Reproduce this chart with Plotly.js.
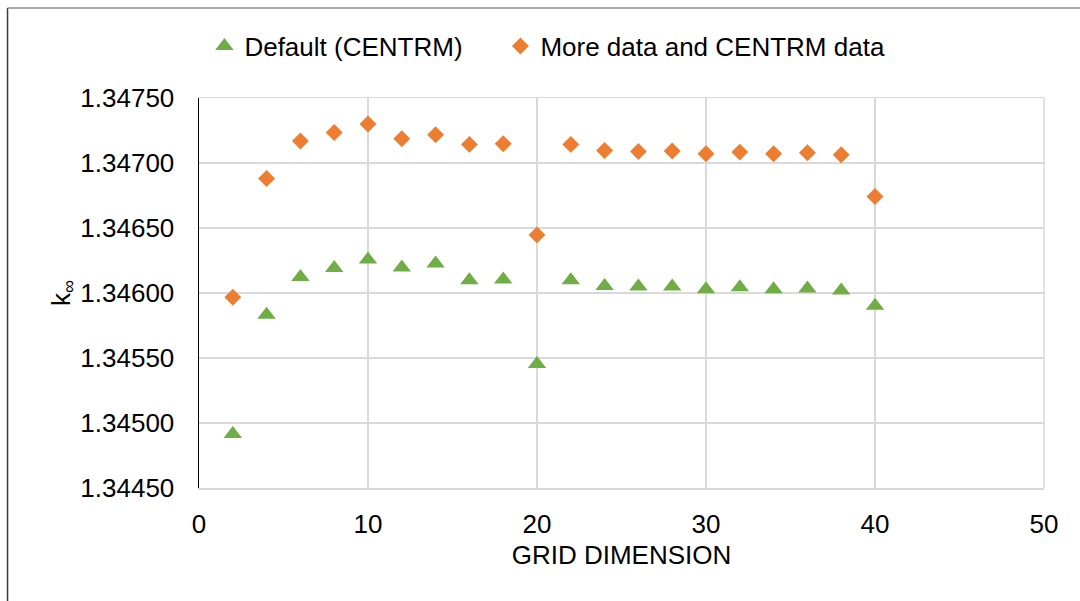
<!DOCTYPE html>
<html>
<head>
<meta charset="utf-8">
<script src="https://cdn.plot.ly/plotly-3.0.1.min.js"></script>
<style>
  html, body { margin: 0; padding: 0; background: #fff; }
  #chart { width: 1080px; height: 601px; }
</style>
</head>
<body>
<div id="chart"></div>
<script>
// Grid dimension (x) shared by both series
const gridDimension = [2, 4, 6, 8, 10, 12, 14, 16, 18, 20, 22, 24, 26, 28, 30, 32, 34, 36, 38, 40];

// k-infinity, default CENTRM treatment
const kDefault = [1.344916, 1.345833, 1.346123, 1.346193, 1.346257, 1.346196, 1.346227, 1.346099, 1.346104, 1.345453,
                  1.346099, 1.346054, 1.346050, 1.346050, 1.346029, 1.346045, 1.346029, 1.346035, 1.346019, 1.345902];

// k-infinity, more data plus CENTRM data
const kMoreData = [1.345967, 1.346881, 1.347169, 1.347235, 1.347300, 1.347186, 1.347217, 1.347143, 1.347148, 1.346447,
                   1.347143, 1.347096, 1.347089, 1.347092, 1.347071, 1.347084, 1.347071, 1.347079, 1.347063, 1.346742];

const seriesNames = ['Default (CENTRM)', 'More data and CENTRM data'];
const xTickVals = [0, 10, 20, 30, 40, 50];
const yTickVals = [1.3445, 1.345, 1.3455, 1.346, 1.3465, 1.347, 1.3475];

const FONT = 'Liberation Sans, Arial, sans-serif';
const GRID = '#d9d9d9';
const legendFont = { family: FONT, size: 26, color: '#000000' };

const traces = [
  {
    x: gridDimension, y: kDefault, name: seriesNames[0], legend: 'legend',
    type: 'scatter', mode: 'markers',
    marker: { symbol: 'triangle-up', size: 16, color: '#70ad47' }
  },
  {
    x: gridDimension, y: kMoreData, name: seriesNames[1], legend: 'legend2',
    type: 'scatter', mode: 'markers',
    marker: { symbol: 'diamond', size: 13, color: '#ed7d31' }
  }
];

const layout = {
  width: 1080, height: 601,
  margin: { l: 199, r: 36, t: 98, b: 113 },
  paper_bgcolor: '#ffffff', plot_bgcolor: '#ffffff',
  font: { family: FONT, size: 26, color: '#000000' },
  showlegend: true,
  // one legend box per series so each entry sits where it belongs in the header row
  legend: {
    orientation: 'h', x: 0.0064, xanchor: 'left', y: 1.133, yanchor: 'middle',
    font: legendFont, bgcolor: 'rgba(0,0,0,0)'
  },
  legend2: {
    orientation: 'h', x: 0.3567, xanchor: 'left', y: 1.133, yanchor: 'middle',
    font: legendFont, bgcolor: 'rgba(0,0,0,0)'
  },
  xaxis: {
    range: [0, 50], tickvals: xTickVals, ticktext: xTickVals.map(String),
    showgrid: true, gridcolor: GRID, gridwidth: 1.5,
    zeroline: false, showline: true, linecolor: GRID, linewidth: 1.5, mirror: true, ticks: '',
    ticklabelstandoff: 12,
    tickfont: { family: FONT, size: 26, color: '#000000' },
    title: { text: 'GRID DIMENSION', font: { family: FONT, size: 26, color: '#000000' }, standoff: 8 }
  },
  yaxis: {
    range: [1.3445, 1.3475], tickvals: yTickVals, ticktext: yTickVals.map(v => v.toFixed(5)),
    showgrid: true, gridcolor: GRID, gridwidth: 1.5,
    zeroline: false, showline: true, linecolor: '#000000', linewidth: 1.5, ticks: '',
    ticklabelstandoff: 18,
    tickfont: { family: FONT, size: 26, color: '#000000' },
    title: { text: 'k<sub>∞</sub>', font: { family: FONT, size: 26, color: '#000000' }, standoff: 2 }
  },
  shapes: [
    // right edge of the plot area, drawn like the gridlines
    { type: 'line', xref: 'paper', yref: 'paper', x0: 1, x1: 1, y0: 0, y1: 1,
      line: { color: GRID, width: 1.5 }, layer: 'below' },
    // chart frame: left and top edges
    { type: 'line', xref: 'paper', yref: 'paper', x0: -0.2266, x1: -0.2266, y0: 1.2308, y1: -0.32,
      line: { color: '#3a3a3a', width: 1.5 } },
    { type: 'line', xref: 'paper', yref: 'paper', x0: -0.2266, x1: 1.06, y0: 1.2308, y1: 1.2308,
      line: { color: '#8c8c8c', width: 1.5 } }
  ]
};

Plotly.newPlot('chart', traces, layout, { displayModeBar: false, staticPlot: true });
</script>
</body>
</html>
